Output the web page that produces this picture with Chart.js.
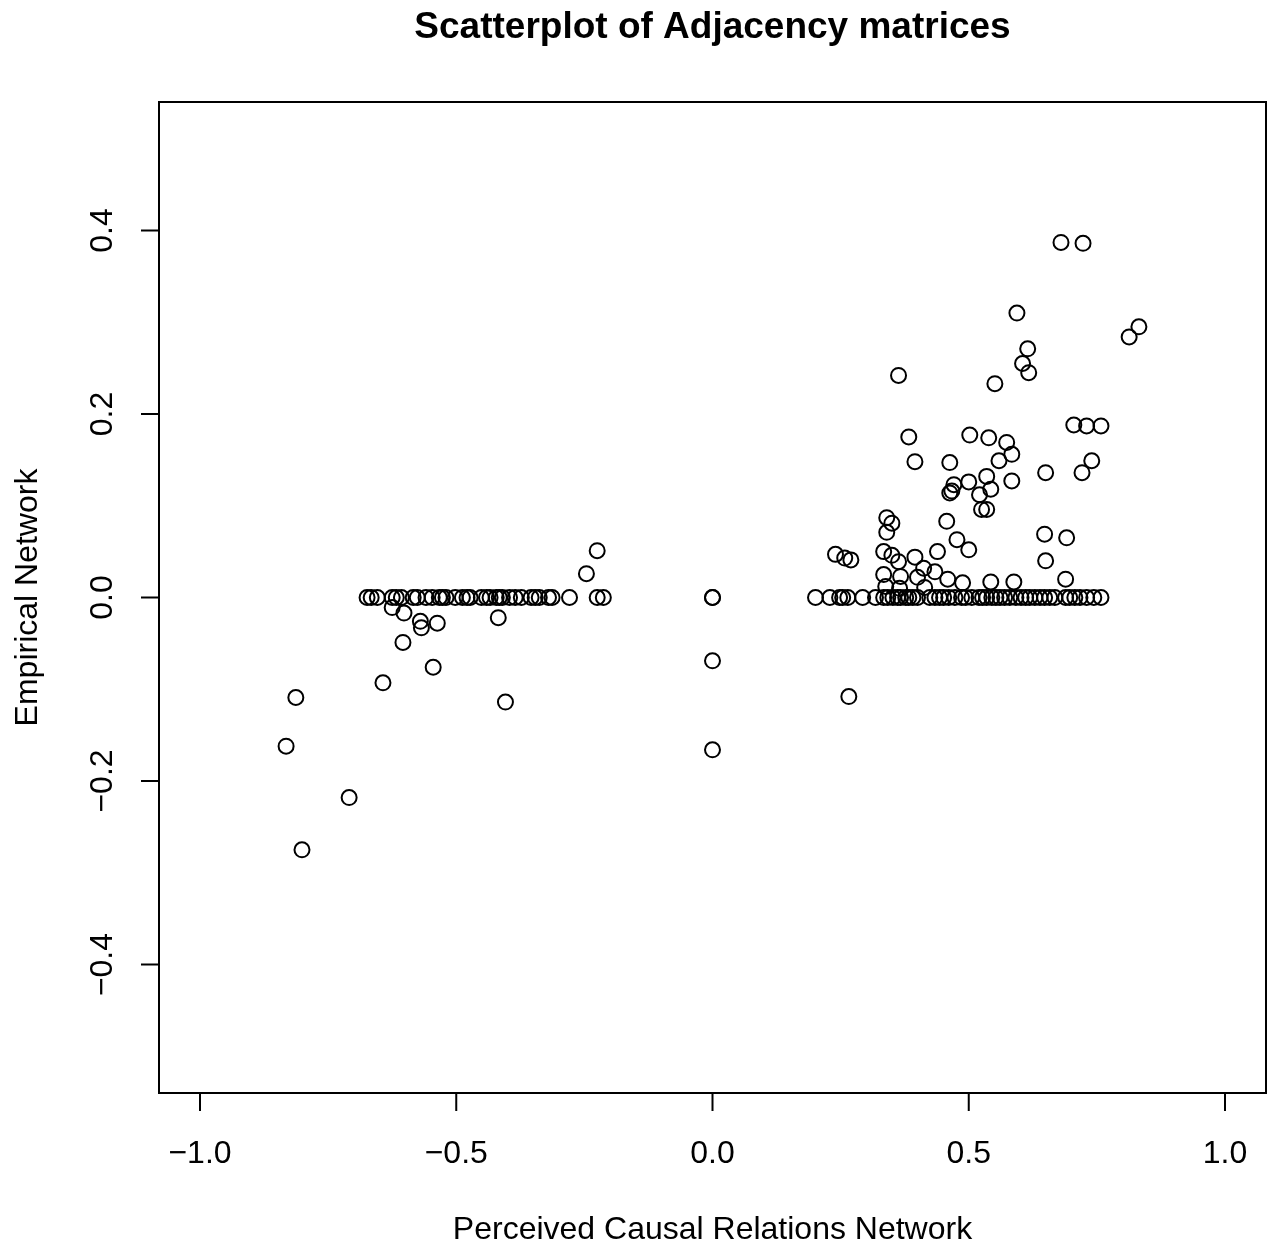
<!DOCTYPE html>
<html>
<head>
<meta charset="utf-8">
<script src="https://cdn.jsdelivr.net/npm/chart.js@4/dist/chart.umd.min.js"></script>
<style>
  html, body { margin: 0; padding: 0; background: #fff; }
  canvas { display: block; }
</style>
</head>
<body>
<canvas id="scatterChart" width="1272" height="1245"></canvas>
<script>
const chartTitle = 'Scatterplot of Adjacency matrices';
const xLabel = 'Perceived Causal Relations Network';
const yLabel = 'Empirical Network';

const xTicks = [-1.0, -0.5, 0.0, 0.5, 1.0];
const yTicks = [-0.4, -0.2, 0.0, 0.2, 0.4];

// points lying on the zero line, negative side
const negZeroX = [-0.674, -0.666, -0.654, -0.625, -0.617, -0.607, -0.584, -0.576, -0.559, -0.547,
    -0.533, -0.527, -0.520, -0.502, -0.488, -0.479, -0.473, -0.451, -0.441, -0.434,
    -0.422, -0.416, -0.410, -0.396, -0.385, -0.373, -0.354, -0.346, -0.338, -0.320,
    -0.313, -0.279, -0.225, -0.213];

// points lying on the zero line, positive side
const posZeroX = [0.201, 0.229, 0.248, 0.254, 0.264, 0.293, 0.318, 0.334, 0.342, 0.352,
    0.361, 0.367, 0.377, 0.383, 0.391, 0.400, 0.424, 0.434, 0.443, 0.451,
    0.461, 0.473, 0.486, 0.494, 0.506, 0.520, 0.527, 0.535, 0.545, 0.553,
    0.561, 0.570, 0.580, 0.592, 0.602, 0.611, 0.619, 0.629, 0.639, 0.648,
    0.658, 0.668, 0.689, 0.697, 0.707, 0.717, 0.730, 0.744, 0.758];

// remaining points (perceived, empirical)
const perceived = [
    -0.225, -0.246, -0.418, -0.404, -0.625, -0.602, -0.570, -0.568, -0.537, -0.604,
    -0.545, -0.643, -0.813, -0.832, -0.709, -0.801,
    0.000, 0.000, 0.000, 0.000,
    0.680, 0.723, 0.594, 0.832, 0.813, 0.615, 0.605, 0.617, 0.363, 0.551,
    0.705, 0.730, 0.758, 0.383, 0.502, 0.539, 0.574, 0.584, 0.395, 0.463,
    0.559, 0.740, 0.650, 0.721, 0.535, 0.500, 0.584, 0.471, 0.467, 0.543,
    0.463, 0.521, 0.525, 0.535, 0.340, 0.350, 0.457, 0.340, 0.648, 0.691,
    0.477, 0.240, 0.258, 0.270, 0.334, 0.350, 0.363, 0.395, 0.439, 0.500,
    0.650, 0.334, 0.367, 0.400, 0.412, 0.434, 0.459, 0.488, 0.543, 0.588,
    0.689, 0.338, 0.365, 0.414, 0.266
];
const empirical = [
    0.051, 0.026, -0.022, -0.114, -0.011, -0.017, -0.026, -0.033, -0.028, -0.049,
    -0.076, -0.093, -0.109, -0.162, -0.218, -0.275,
    0.000, 0.000, -0.069, -0.166,
    0.387, 0.386, 0.310, 0.295, 0.284, 0.271, 0.255, 0.245, 0.242, 0.233,
    0.188, 0.187, 0.187, 0.175, 0.177, 0.174, 0.169, 0.156, 0.148, 0.147,
    0.149, 0.149, 0.136, 0.136, 0.132, 0.126, 0.127, 0.123, 0.116, 0.118,
    0.114, 0.112, 0.096, 0.096, 0.087, 0.081, 0.083, 0.071, 0.069, 0.065,
    0.063, 0.047, 0.043, 0.041, 0.050, 0.046, 0.039, 0.044, 0.050, 0.052,
    0.040, 0.025, 0.023, 0.022, 0.032, 0.028, 0.020, 0.016, 0.017, 0.017,
    0.020, 0.012, 0.010, 0.011, -0.108
];

const points = [];
negZeroX.forEach(x => points.push({ x: x, y: 0 }));
posZeroX.forEach(x => points.push({ x: x, y: 0 }));
perceived.forEach((x, i) => points.push({ x: x, y: empirical[i] }));

const fmt = v => v.toFixed(1).replace('-', '\u2212');

// R style frame, ticks and labels drawn from the chart's own scales
const baseAxes = {
    id: 'baseAxes',
    afterDraw(chart) {
        const ctx = chart.ctx;
        const area = chart.chartArea;
        const xs = chart.scales.x;
        const ys = chart.scales.y;
        const tickLen = 18;
        ctx.save();
        ctx.strokeStyle = '#000';
        ctx.fillStyle = '#000';
        ctx.lineWidth = 2;
        ctx.strokeRect(area.left, area.top, area.right - area.left, area.bottom - area.top);

        ctx.font = '32px "Liberation Sans", Arial, sans-serif';
        ctx.textAlign = 'center';
        ctx.textBaseline = 'alphabetic';
        ctx.beginPath();
        ctx.moveTo(xs.getPixelForValue(xTicks[0]), area.bottom);
        ctx.lineTo(xs.getPixelForValue(xTicks[xTicks.length - 1]), area.bottom);
        xTicks.forEach(v => {
            const px = xs.getPixelForValue(v);
            ctx.moveTo(px, area.bottom);
            ctx.lineTo(px, area.bottom + tickLen);
        });
        ctx.moveTo(area.left, ys.getPixelForValue(yTicks[0]));
        ctx.lineTo(area.left, ys.getPixelForValue(yTicks[yTicks.length - 1]));
        yTicks.forEach(v => {
            const py = ys.getPixelForValue(v);
            ctx.moveTo(area.left, py);
            ctx.lineTo(area.left - tickLen, py);
        });
        ctx.stroke();

        xTicks.forEach(v => {
            ctx.fillText(fmt(v), xs.getPixelForValue(v), 1163);
        });
        yTicks.forEach(v => {
            ctx.save();
            ctx.translate(112, ys.getPixelForValue(v));
            ctx.rotate(-Math.PI / 2);
            ctx.fillText(fmt(v), 0, 0);
            ctx.restore();
        });

        const midX = (area.left + area.right) / 2;
        const midY = (area.top + area.bottom) / 2;
        ctx.fillText(xLabel, midX, 1239);
        ctx.save();
        ctx.translate(37, midY);
        ctx.rotate(-Math.PI / 2);
        ctx.fillText(yLabel, 0, 0);
        ctx.restore();

        ctx.font = 'bold 37px "Liberation Sans", Arial, sans-serif';
        ctx.fillText(chartTitle, midX, 38);
        ctx.restore();
    }
};

new Chart(document.getElementById('scatterChart'), {
    type: 'scatter',
    data: {
        datasets: [{
            label: 'Adjacency',
            data: points,
            pointRadius: 7.5,
            pointHoverRadius: 7.5,
            borderColor: '#000',
            backgroundColor: 'rgba(0,0,0,0)',
            borderWidth: 2
        }]
    },
    options: {
        responsive: false,
        devicePixelRatio: 1,
        animation: false,
        clip: false,
        layout: { autoPadding: false, padding: { left: 159, right: 6, top: 102, bottom: 152 } },
        plugins: {
            legend: { display: false },
            tooltip: { enabled: false }
        },
        scales: {
            x: { type: 'linear', min: -1.08, max: 1.08, display: false },
            y: { type: 'linear', min: -0.54, max: 0.54, display: false }
        }
    },
    plugins: [baseAxes]
});
</script>
</body>
</html>
